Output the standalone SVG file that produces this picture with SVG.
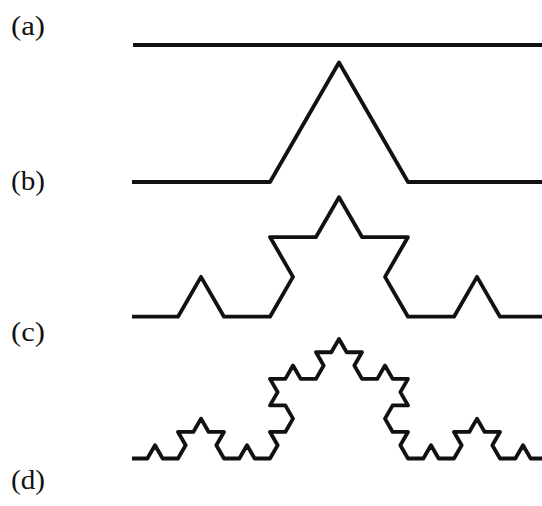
<svg xmlns="http://www.w3.org/2000/svg" width="542" height="506" viewBox="0 0 542 506">
<style>
.curve{fill:none;stroke:#111;stroke-width:3.8;stroke-linejoin:round;stroke-linecap:butt}
.lbl{font-family:"Liberation Serif","Times New Roman",serif;font-size:27px;fill:#111}
</style>
<rect width="542" height="506" fill="#fff"/>
<g id="labels">
<text class="lbl" x="11" y="35" textLength="34" lengthAdjust="spacingAndGlyphs">(a)</text>
<text class="lbl" x="11" y="189.6" textLength="34" lengthAdjust="spacingAndGlyphs">(b)</text>
<text class="lbl" x="11" y="341" textLength="34" lengthAdjust="spacingAndGlyphs">(c)</text>
<text class="lbl" x="11" y="489.3" textLength="34" lengthAdjust="spacingAndGlyphs">(d)</text>
</g>
<g id="connectors">
<path id="curve-a" class="curve" d="M133,45 H546"/>
<path id="curve-b" class="curve" d="M132,182 h138 l69,-119.512 l69,119.512 h138"/>
<path id="curve-c" class="curve" d="M132,316.7 h46 l23,-39.837 l23,39.837 h46 l23,-39.837 l-23,-39.837 h46 l23,-39.837 l23,39.837 h46 l-23,39.837 l23,39.837 h46 l23,-39.837 l23,39.837 h46"/>
<path id="curve-d" class="curve" d="M132,458.5
h15.333 l7.667,-13.279 l7.667,13.279 h15.333
l7.667,-13.279 l-7.667,-13.279 h15.333 l7.667,-13.279
l7.667,13.279 h15.333 l-7.667,13.279 l7.667,13.279
h15.333 l7.667,-13.279 l7.667,13.279 h15.333
l7.667,-13.279 l-7.667,-13.279 h15.333 l7.667,-13.279
l-7.667,-13.279 h-15.333 l7.667,-13.279 l-7.667,-13.279
h15.333 l7.667,-13.279 l7.667,13.279 h15.333
l7.667,-13.279 l-7.667,-13.279 h15.333 l7.667,-13.279
l7.667,13.279 h15.333 l-7.667,13.279 l7.667,13.279
h15.333 l7.667,-13.279 l7.667,13.279 h15.333
l-7.667,13.279 l7.667,13.279 h-15.333 l-7.667,13.279
l7.667,13.279 h15.333 l-7.667,13.279 l7.667,13.279
h15.333 l7.667,-13.279 l7.667,13.279 h15.333
l7.667,-13.279 l-7.667,-13.279 h15.333 l7.667,-13.279
l7.667,13.279 h15.333 l-7.667,13.279 l7.667,13.279
h15.333 l7.667,-13.279 l7.667,13.279 h15.333"/>
</g>
</svg>
